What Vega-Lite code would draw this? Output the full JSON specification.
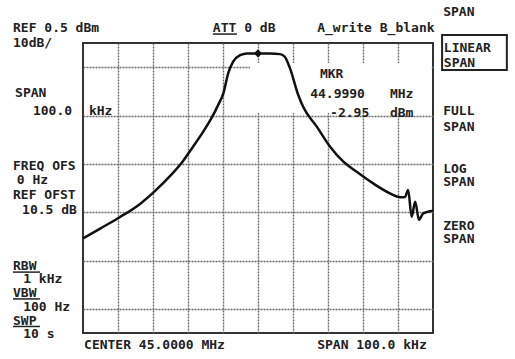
{
  "$schema": "https://vega.github.io/schema/vega-lite/v6.json",
  "width": 350,
  "height": 290,
  "autosize": {"type": "none"},
  "padding": {"left": 83, "top": 43, "right": 82, "bottom": 26},
  "background": "white",
  "config": {
    "view": {"stroke": "#333", "strokeWidth": 2},
    "axis": {"labels": false, "ticks": false, "domain": false, "title": null, "grid": true, "gridColor": "#6a6a6a", "gridDash": [2, 1], "gridWidth": 1.4, "gridOpacity": 1}
  },
  "datasets": {
    "trace": [
      {"khz": -50, "dbm": -80.4}, {"khz": -45.1, "dbm": -76.3}, {"khz": -39.4, "dbm": -71.5},
      {"khz": -33.7, "dbm": -66.1}, {"khz": -29.4, "dbm": -60.7}, {"khz": -25.1, "dbm": -54.5},
      {"khz": -21.4, "dbm": -48.3}, {"khz": -18.6, "dbm": -42.5}, {"khz": -15.7, "dbm": -36.3},
      {"khz": -13.1, "dbm": -30.1}, {"khz": -11.4, "dbm": -25.2}, {"khz": -9.9, "dbm": -20.3},
      {"khz": -8.5, "dbm": -12.0}, {"khz": -7.1, "dbm": -7.2}, {"khz": -5.1, "dbm": -4.5},
      {"khz": -3.1, "dbm": -3.8}, {"khz": 0, "dbm": -3.8}, {"khz": 3.4, "dbm": -3.8},
      {"khz": 6.3, "dbm": -4.1}, {"khz": 7.7, "dbm": -5.3}, {"khz": 9.1, "dbm": -9.8},
      {"khz": 11.5, "dbm": -21.0}, {"khz": 12.9, "dbm": -25.9}, {"khz": 16.8, "dbm": -34.1},
      {"khz": 20.6, "dbm": -42.4}, {"khz": 24.4, "dbm": -48.6}, {"khz": 28.2, "dbm": -52.8},
      {"khz": 32.9, "dbm": -57.6}, {"khz": 37.7, "dbm": -61.7}, {"khz": 40.6, "dbm": -63.3},
      {"khz": 42.0, "dbm": -63.2}, {"khz": 42.9, "dbm": -60.3}, {"khz": 43.9, "dbm": -71.4},
      {"khz": 44.9, "dbm": -65.2}, {"khz": 46.0, "dbm": -72.7}, {"khz": 47.2, "dbm": -70.0},
      {"khz": 50, "dbm": -68.9}
    ],
    "marker": [{"khz": 0, "dbm": -3.8}],
    "blank": [{"x1": -2.3, "x2": 49.6, "y1": -7.8, "y2": -28.5}],
    "box": [{"x1": 52.6, "x2": 71.1, "y1": 3.8, "y2": -10.7}],
    "underline": [
      {"x1": -12.9, "x2": -6.0, "y": 4.2},
      {"x1": -70, "x2": -62.3, "y": -94.3},
      {"x1": -70, "x2": -62.3, "y": -105.4},
      {"x1": -70, "x2": -62.3, "y": -116.8}
    ],
    "labels": [
      {"label": "REF 0.5 dBm", "kx": -70, "db": 5.2},
      {"label": "10dB/", "kx": -70, "db": -1.0},
      {"label": "SPAN", "kx": -69.4, "db": -21.7},
      {"label": "100.0", "kx": -64.3, "db": -29.3},
      {"label": "kHz", "kx": -48.3, "db": -29.3},
      {"label": "ATT 0 dB", "kx": -12.9, "db": 5.2},
      {"label": "A_write B_blank", "kx": 16.9, "db": 5.2},
      {"label": "SPAN", "kx": 52.9, "db": 11.7},
      {"label": "LINEAR", "kx": 53.1, "db": -3.2},
      {"label": "SPAN", "kx": 53.1, "db": -9.4},
      {"label": "MKR", "kx": 17.7, "db": -14.0},
      {"label": "44.9990", "kx": 14.9, "db": -22.3},
      {"label": "MHz", "kx": 37.7, "db": -22.3},
      {"label": "-2.95", "kx": 20.6, "db": -30.1},
      {"label": "dBm", "kx": 37.7, "db": -30.1},
      {"label": "FULL", "kx": 52.9, "db": -29.3},
      {"label": "SPAN", "kx": 52.9, "db": -35.9},
      {"label": "LOG", "kx": 52.9, "db": -53.1},
      {"label": "SPAN", "kx": 52.9, "db": -58.7},
      {"label": "ZERO", "kx": 52.9, "db": -76.7},
      {"label": "SPAN", "kx": 52.9, "db": -82.3},
      {"label": "FREQ OFS", "kx": -70, "db": -52.1},
      {"label": "0 Hz", "kx": -68.9, "db": -57.8},
      {"label": "REF OFST", "kx": -70, "db": -64.1},
      {"label": "10.5 dB", "kx": -67.4, "db": -70.3},
      {"label": "RBW", "kx": -70, "db": -93.4},
      {"label": "1 kHz", "kx": -67.1, "db": -98.8},
      {"label": "VBW", "kx": -70, "db": -104.8},
      {"label": "100 Hz", "kx": -67.1, "db": -110.4},
      {"label": "SWP", "kx": -70, "db": -116.0},
      {"label": "10 s", "kx": -67.1, "db": -121.6},
      {"label": "CENTER 45.0000 MHz", "kx": -49.7, "db": -126.1},
      {"label": "SPAN 100.0 kHz", "kx": 16.9, "db": -126.1}
    ]
  },
  "encoding": {},
  "layer": [
    {
      "data": {"name": "blank"},
      "mark": {"type": "rect", "fill": "white", "strokeWidth": 0},
      "encoding": {
        "x": {"field": "x1", "type": "quantitative", "scale": {"domain": [-50, 50], "nice": false, "zero": false},
              "axis": {"values": [-40, -30, -20, -10, 0, 10, 20, 30, 40]}},
        "x2": {"field": "x2"},
        "y": {"field": "y1", "type": "quantitative", "scale": {"domain": [-119.5, 0.5], "nice": false, "zero": false},
              "axis": {"values": [-9.5, -19.5, -29.5, -39.5, -49.5, -59.5, -69.5, -79.5, -89.5, -99.5, -109.5]}},
        "y2": {"field": "y2"}
      }
    },
    {
      "data": {"name": "trace"},
      "mark": {"type": "line", "color": "#111", "strokeWidth": 2.5, "interpolate": "monotone"},
      "encoding": {
        "x": {"field": "khz", "type": "quantitative"},
        "y": {"field": "dbm", "type": "quantitative"}
      }
    },
    {
      "data": {"name": "marker"},
      "mark": {"type": "point", "shape": "diamond", "filled": true, "color": "#111", "size": 70, "opacity": 1},
      "encoding": {
        "x": {"field": "khz", "type": "quantitative"},
        "y": {"field": "dbm", "type": "quantitative"}
      }
    },
    {
      "data": {"name": "box"},
      "mark": {"type": "rect", "fill": null, "fillOpacity": 0, "stroke": "#222", "strokeWidth": 2},
      "encoding": {
        "x": {"field": "x1", "type": "quantitative"},
        "x2": {"field": "x2"},
        "y": {"field": "y1", "type": "quantitative"},
        "y2": {"field": "y2"}
      }
    },
    {
      "data": {"name": "underline"},
      "mark": {"type": "rule", "color": "#222", "strokeWidth": 1.5},
      "encoding": {
        "x": {"field": "x1", "type": "quantitative"},
        "x2": {"field": "x2"},
        "y": {"field": "y", "type": "quantitative"}
      }
    },
    {
      "data": {"name": "labels"},
      "mark": {"type": "text", "align": "left", "baseline": "alphabetic", "font": "DejaVu Sans Mono", "fontWeight": "bold", "fontSize": 13, "color": "#222"},
      "encoding": {
        "x": {"field": "kx", "type": "quantitative"},
        "y": {"field": "db", "type": "quantitative"},
        "text": {"field": "label"}
      }
    }
  ]
}
